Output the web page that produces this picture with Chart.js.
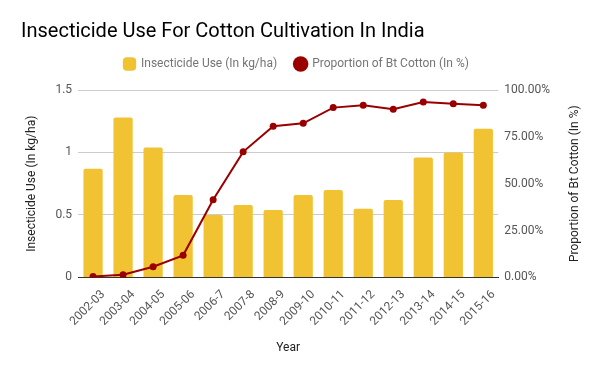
<!DOCTYPE html>
<html><head><meta charset="utf-8">
<script src="https://cdn.jsdelivr.net/npm/chart.js@4"></script>
<style>html,body{margin:0;padding:0;background:#fff}#w{width:600px;height:371px;position:relative}</style>
</head><body><div id="w"><canvas id="c"></canvas></div>
<script>
const years = ["2002-03","2003-04","2004-05","2005-06","2006-7","2007-8","2008-9","2009-10","2010-11","2011-12","2012-13","2013-14","2014-15","2015-16"];
const insecticideUse = [0.87,1.28,1.04,0.66,0.50,0.58,0.54,0.66,0.70,0.55,0.62,0.96,1.00,1.19];
const btProportion = [0.5,1.4,5.7,11.8,41.5,67.0,80.7,82.2,90.6,91.8,89.7,93.6,92.7,91.8];
const leftTicks = [0,0.5,1,1.5];
const rightTicks = [0,25,50,75,100];
const rightTitle = 'Proportion of Bt Cotton (In %)';

Chart.defaults.font.family = "Roboto";
const legendSpacer = {id:'legendSpacer', beforeInit(chart){
  const fit = chart.legend.fit;
  chart.legend.fit = function(){ fit.bind(this)(); this.height += 10; };
}, afterLayout(chart){ chart.legend.left = 106; }};
const rightTitlePlugin = {id:'rightTitle', afterDraw(chart){
  const ctx = chart.ctx, a = chart.chartArea;
  ctx.save();
  ctx.translate(575, (a.top + a.bottom)/2);
  ctx.rotate(-Math.PI/2);
  ctx.font = '12px Roboto';
  ctx.fillStyle = '#222';
  ctx.textAlign = 'center';
  ctx.textBaseline = 'middle';
  ctx.fillText(rightTitle, 0, 0);
  ctx.restore();
}};
new Chart(document.getElementById('c'), {
  data: {
    labels: years,
    datasets: [
      {type:'line', label:'Proportion of Bt Cotton (In %)', data: btProportion, yAxisID:'y1',
       borderColor:'#990000', backgroundColor:'#990000', borderWidth:2, pointRadius:3.5,
       pointBackgroundColor:'#990000', pointBorderWidth:0, tension:0, order:0},
      {type:'bar', label:'Insecticide Use (In kg/ha)', data: insecticideUse, yAxisID:'y',
       backgroundColor:'#f1c232', borderRadius:2, borderSkipped:'bottom', barPercentage:0.64, categoryPercentage:1, order:1}
    ]
  },
  plugins:[legendSpacer, rightTitlePlugin],
  options: {
    responsive:true, maintainAspectRatio:false, animation:false,
    layout:{padding:{left:21,right:44,top:16,bottom:12}},
    plugins:{
      title:{display:true, text:'Insecticide Use For Cotton Cultivation In India', align:'start',
        color:'#000', font:{size:20, weight:'normal'}, padding:{top:4,bottom:-4}},
      legend:{display:true, align:'start', labels:{usePointStyle:true, color:'#757575', font:{size:12}, boxWidth:11, boxHeight:11, padding:18,
        generateLabels:(chart)=>{
          const ds = chart.data.datasets;
          return [
            {text:ds[1].label, fillStyle:'#f1c232', strokeStyle:'#f1c232', lineWidth:0, pointStyle:'rectRounded', datasetIndex:1, fontColor:'#757575'},
            {text:ds[0].label, fillStyle:'#990000', strokeStyle:'#990000', lineWidth:0, pointStyle:'circle', datasetIndex:0, fontColor:'#757575'}
          ];
        }}},
      tooltip:{enabled:false}
    },
    scales:{
      x:{grid:{display:false, drawTicks:false}, border:{display:true,color:'#333',width:1},
         ticks:{color:'#555', font:{size:12}, minRotation:45, maxRotation:45, padding:10, labelOffset:10},
         title:{display:true,text:'Year',color:'#222',font:{size:12},padding:{top:2}}},
      y:{position:'left', min:0, max:1.5, afterBuildTicks:(s)=>{s.ticks=leftTicks.map(v=>({value:v}));},
         grid:{color:'#ccc', drawTicks:false}, border:{display:false},
         ticks:{color:'#555', font:{size:12}, padding:6, callback:(v)=>String(v)},
         title:{display:true,text:'Insecticide Use (In kg/ha)',color:'#222',font:{size:12},padding:{bottom:10}}},
      y1:{position:'right', min:0, max:100, afterBuildTicks:(s)=>{s.ticks=rightTicks.map(v=>({value:v}));},
         grid:{display:false, drawTicks:false}, border:{display:false},
         ticks:{color:'#555', font:{size:12}, padding:6, callback:(v)=>v.toFixed(2)+'%'}}
    }
  }
});
</script></body></html>
